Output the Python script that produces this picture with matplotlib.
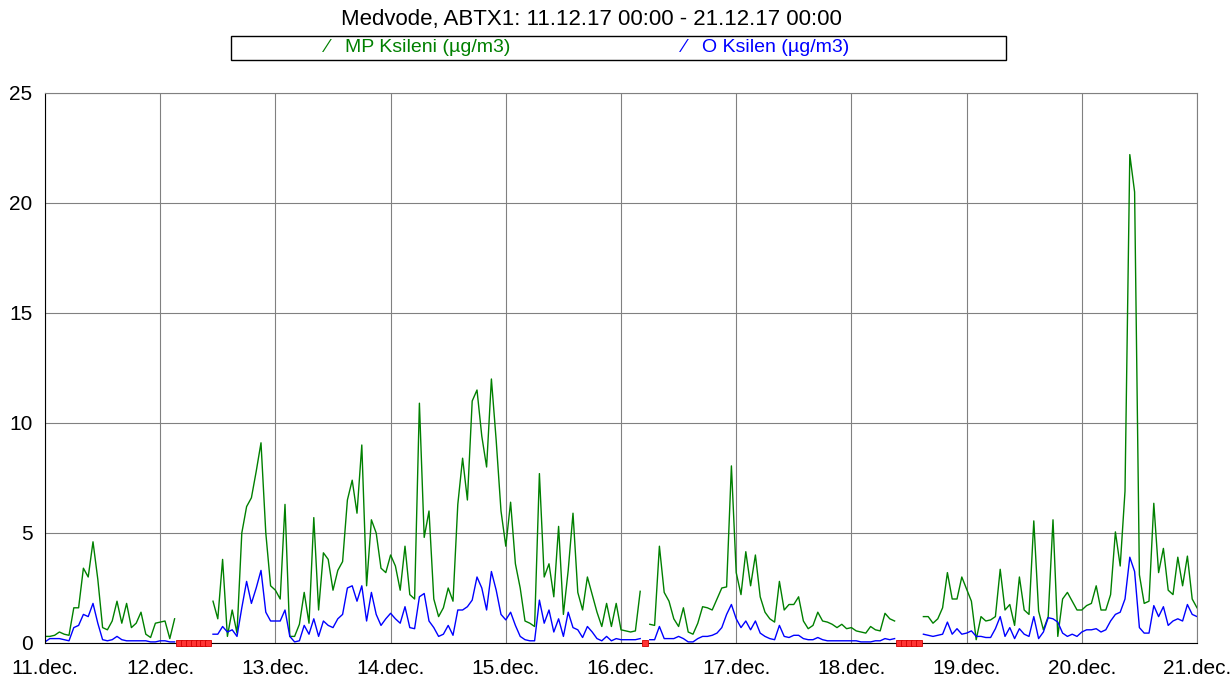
import numpy as np
import matplotlib.pyplot as plt
from matplotlib.patches import Rectangle

nan = np.nan

day_labels = ['11.dec.', '12.dec.', '13.dec.', '14.dec.', '15.dec.', '16.dec.',
              '17.dec.', '18.dec.', '19.dec.', '20.dec.', '21.dec.']

# hourly values, ug/m3 (nan = missing)
mp_11 = [0.3, 0.3, 0.35, 0.5, 0.4, 0.35, 1.6, 1.6, 3.4, 3.0, 4.6, 2.9,
         0.7, 0.6, 1.0, 1.9, 0.9, 1.8, 0.7, 0.9, 1.4, 0.4, 0.25, 0.9]
o_11 = [0.05, 0.2, 0.2, 0.2, 0.15, 0.1, 0.7, 0.8, 1.3, 1.2, 1.8, 0.9,
        0.15, 0.1, 0.15, 0.3, 0.15, 0.1, 0.1, 0.1, 0.1, 0.1, 0.05, 0.05]

mp_12 = [0.95, 1.0, 0.2, 1.1, nan, nan, nan, nan, nan, nan, nan, 1.9,
         1.1, 3.8, 0.3, 1.5, 0.45, 5.0, 6.2, 6.6, 7.8, 9.1, 5.0, 2.6]
o_12 = [0.1, 0.1, 0.05, 0.05, nan, nan, nan, nan, nan, nan, nan, 0.4,
        0.4, 0.75, 0.5, 0.6, 0.3, 1.6, 2.8, 1.8, 2.5, 3.3, 1.4, 1.0]

mp_13 = [2.4, 2.0, 6.3, 0.3, 0.3, 0.85, 2.3, 0.9, 5.7, 1.5, 4.1, 3.8,
         2.4, 3.3, 3.7, 6.5, 7.4, 5.9, 9.0, 2.6, 5.6, 5.0, 3.4, 3.2]
o_13 = [1.0, 1.0, 1.5, 0.3, 0.05, 0.1, 0.8, 0.4, 1.1, 0.3, 1.0, 0.8,
        0.7, 1.1, 1.3, 2.5, 2.6, 1.9, 2.6, 1.0, 2.3, 1.3, 0.8, 1.1]

mp_14 = [4.0, 3.5, 2.4, 4.4, 2.2, 2.0, 10.9, 4.8, 6.0, 2.0, 1.2, 1.6,
         2.5, 1.9, 6.3, 8.4, 6.5, 11.0, 11.5, 9.4, 8.0, 12.0, 9.2, 6.0]
o_14 = [1.35, 1.1, 0.9, 1.65, 0.7, 0.65, 2.1, 2.25, 1.0, 0.7, 0.3, 0.4,
        0.8, 0.35, 1.5, 1.5, 1.65, 1.95, 3.0, 2.5, 1.5, 3.25, 2.4, 1.3]

mp_15 = [4.4, 6.4, 3.6, 2.5, 1.0, 0.9, 0.75, 7.7, 3.0, 3.6, 2.1, 5.3,
         1.3, 3.3, 5.9, 2.3, 1.5, 3.0, 2.2, 1.4, 0.75, 1.8, 0.75, 1.8]
o_15 = [1.05, 1.4, 0.8, 0.3, 0.15, 0.1, 0.1, 1.95, 0.9, 1.5, 0.5, 1.1,
        0.3, 1.4, 0.7, 0.6, 0.25, 0.75, 0.5, 0.2, 0.1, 0.3, 0.1, 0.2]

mp_16 = [0.6, 0.55, 0.5, 0.55, 2.35, nan, 0.85, 0.8, 4.4, 2.3, 1.9, 1.1,
         0.75, 1.6, 0.5, 0.4, 0.9, 1.65, 1.6, 1.5, 2.0, 2.5, 2.55, 8.05]
o_16 = [0.15, 0.15, 0.15, 0.15, 0.2, nan, 0.15, 0.15, 0.75, 0.2, 0.2, 0.2,
        0.3, 0.2, 0.05, 0.05, 0.2, 0.3, 0.3, 0.35, 0.45, 0.7, 1.3, 1.75]

mp_17 = [3.2, 2.2, 4.15, 2.6, 4.0, 2.1, 1.4, 1.1, 0.95, 2.8, 1.5, 1.75,
         1.75, 2.1, 1.0, 0.65, 0.8, 1.4, 1.0, 0.95, 0.85, 0.7, 0.85, 0.65]
o_17 = [1.1, 0.7, 1.0, 0.6, 1.0, 0.45, 0.3, 0.2, 0.15, 0.8, 0.3, 0.25,
        0.35, 0.35, 0.2, 0.15, 0.15, 0.25, 0.15, 0.1, 0.1, 0.1, 0.1, 0.1]

mp_18 = [0.7, 0.55, 0.5, 0.45, 0.75, 0.6, 0.55, 1.35, 1.1, 1.0, nan, nan,
         nan, nan, nan, 1.2, 1.2, 0.9, 1.1, 1.6, 3.2, 2.0, 2.0, 3.0]
o_18 = [0.1, 0.1, 0.05, 0.05, 0.05, 0.1, 0.1, 0.2, 0.15, 0.2, nan, nan,
        nan, nan, nan, 0.4, 0.35, 0.3, 0.35, 0.4, 0.95, 0.4, 0.65, 0.4]

mp_19 = [2.45, 1.9, 0.15, 1.2, 1.0, 1.05, 1.2, 3.35, 1.5, 1.75, 0.8, 3.0,
         1.5, 1.3, 5.55, 1.45, 0.6, 1.2, 5.6, 0.3, 2.0, 2.3, 1.9, 1.5]
o_19 = [0.45, 0.55, 0.3, 0.3, 0.25, 0.25, 0.65, 1.2, 0.3, 0.7, 0.2, 0.65,
        0.4, 0.3, 1.2, 0.2, 0.5, 1.15, 1.1, 0.95, 0.45, 0.3, 0.4, 0.3]

mp_20 = [1.5, 1.7, 1.8, 2.6, 1.5, 1.5, 2.2, 5.05, 3.5, 6.9, 22.2, 20.5,
         3.1, 1.8, 1.9, 6.35, 3.2, 4.3, 2.4, 2.2, 3.9, 2.6, 3.95, 2.0]
o_20 = [0.5, 0.6, 0.6, 0.65, 0.5, 0.6, 1.0, 1.3, 1.4, 2.0, 3.9, 3.25,
        0.7, 0.45, 0.45, 1.7, 1.2, 1.65, 0.8, 1.0, 1.1, 1.0, 1.75, 1.3]

mp_21 = [1.6]
o_21 = [1.2]

mp = np.array(mp_11 + mp_12 + mp_13 + mp_14 + mp_15 + mp_16 + mp_17 +
              mp_18 + mp_19 + mp_20 + mp_21)
o = np.array(o_11 + o_12 + o_13 + o_14 + o_15 + o_16 + o_17 +
             o_18 + o_19 + o_20 + o_21)
t = np.arange(len(mp)) / 24.0

green = '#008000'
blue = '#0000ff'

plt.rcParams['font.family'] = ['Liberation Sans', 'DejaVu Sans']

fig = plt.figure(figsize=(12.31, 6.81), dpi=100)
ax = fig.add_axes([45 / 1231, 1 - 643 / 681, 1152 / 1231, 550 / 681])

ax.plot(t, mp, color=green, lw=1.0)
ax.plot(t, o, color=blue, lw=1.0)

# missing data markers on the axis
miss = t[np.isnan(mp)]
ax.plot(miss, np.zeros_like(miss), 's', ms=3.8, mfc='#ff3333', mec='#d00000',
        mew=0.6, clip_on=False, zorder=5)

ax.set_xlim(0, 10)
ax.set_ylim(0, 25)
ax.set_xticks(range(11))
ax.set_xticklabels(day_labels)
ax.set_yticks(range(0, 26, 5))
ax.grid(True, color='#808080', lw=0.8)
ax.tick_params(length=0, labelsize=15)
ax.tick_params(axis='y', pad=9)
ax.tick_params(axis='x', pad=11.5)
for s in ['top', 'right']:
    ax.spines[s].set_color('#808080')
    ax.spines[s].set_linewidth(0.8)

fig.text(591 / 1231, 1 - 19 / 681, 'Medvode, ABTX1: 11.12.17 00:00 - 21.12.17 00:00',
         ha='center', va='center', fontsize=16)

fig.patches.append(Rectangle((231 / 1231, 1 - 60 / 681), 775 / 1231, 24 / 681,
                             transform=fig.transFigure, fc='white', ec='black', lw=1))
ly = 1 - 48 / 681
fig.text(326 / 1231, ly, '\u2044', color=green, va='center', fontsize=14)
fig.text(345 / 1231, ly, 'MP Ksileni (\u00b5g/m3)', color=green, va='center', fontsize=14)
fig.text(683 / 1231, ly, '\u2044', color=blue, va='center', fontsize=14)
fig.text(702 / 1231, ly, 'O Ksilen (\u00b5g/m3)', color=blue, va='center', fontsize=14)

fig.savefig('out.png', dpi=100)
